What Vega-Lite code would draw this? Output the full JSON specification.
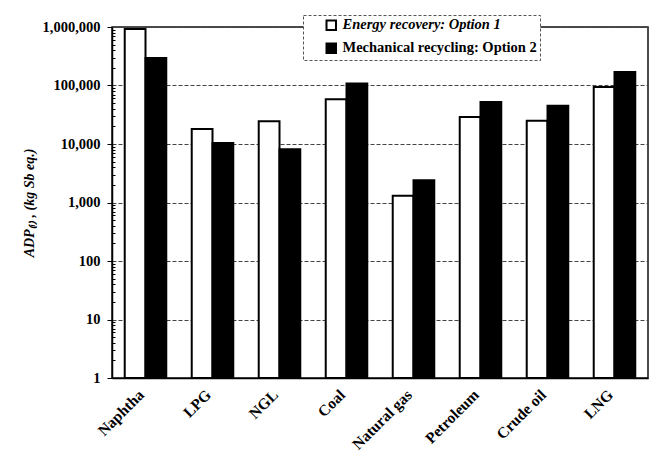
{
  "$schema": "https://vega.github.io/schema/vega-lite/v6.json",
  "width": 536,
  "height": 351,
  "autosize": {"type": "none"},
  "padding": {"left": 112, "top": 27, "right": 6, "bottom": 74},
  "background": "white",
  "config": {
    "font": "Liberation Serif",
    "view": {"stroke": "#111", "strokeWidth": 1.5},
    "axis": {"labelFont": "Liberation Serif", "titleFont": "Liberation Serif", "labelColor": "#000", "titleColor": "#000", "domainColor": "#000", "tickColor": "#000"}
  },
  "data": {
    "values": [
      {"fuel": "Naphtha", "option": "Energy recovery: Option 1", "value": 920000},
      {"fuel": "Naphtha", "option": "Mechanical recycling: Option 2", "value": 295000},
      {"fuel": "LPG", "option": "Energy recovery: Option 1", "value": 18000},
      {"fuel": "LPG", "option": "Mechanical recycling: Option 2", "value": 10400},
      {"fuel": "NGL", "option": "Energy recovery: Option 1", "value": 24500},
      {"fuel": "NGL", "option": "Mechanical recycling: Option 2", "value": 8100},
      {"fuel": "Coal", "option": "Energy recovery: Option 1", "value": 58000},
      {"fuel": "Coal", "option": "Mechanical recycling: Option 2", "value": 108000},
      {"fuel": "Natural gas", "option": "Energy recovery: Option 1", "value": 1300},
      {"fuel": "Natural gas", "option": "Mechanical recycling: Option 2", "value": 2400},
      {"fuel": "Petroleum", "option": "Energy recovery: Option 1", "value": 29000},
      {"fuel": "Petroleum", "option": "Mechanical recycling: Option 2", "value": 52000},
      {"fuel": "Crude oil", "option": "Energy recovery: Option 1", "value": 25000},
      {"fuel": "Crude oil", "option": "Mechanical recycling: Option 2", "value": 45000},
      {"fuel": "LNG", "option": "Energy recovery: Option 1", "value": 94000},
      {"fuel": "LNG", "option": "Mechanical recycling: Option 2", "value": 170000}
    ]
  },
  "mark": {"type": "bar", "stroke": "#000", "strokeWidth": 2},
  "encoding": {
    "x": {
      "field": "fuel",
      "type": "nominal",
      "sort": ["Naphtha", "LPG", "NGL", "Coal", "Natural gas", "Petroleum", "Crude oil", "LNG"],
      "scale": {"paddingInner": 0.38, "paddingOuter": 0.19},
      "axis": {
        "title": null,
        "labelAngle": -45,
        "labelFontSize": 15.5,
        "labelFontWeight": "bold",
        "labelPadding": 9,
        "labelOffset": -9,
        "ticks": false,
        "domainWidth": 1.5
      }
    },
    "xOffset": {"field": "option", "type": "nominal", "sort": ["Energy recovery: Option 1", "Mechanical recycling: Option 2"]},
    "y": {
      "field": "value",
      "type": "quantitative",
      "scale": {"type": "log", "domain": [1, 1000000], "nice": false},
      "axis": {
        "title": "ADP₍ᵢ₎ , (kg Sb eq.)",
        "titleFontSize": 14,
        "titleFontWeight": "bold",
        "titleFontStyle": "italic",
        "titlePadding": 6,
        "values": [1, 2, 3, 4, 5, 6, 7, 8, 9, 10, 20, 30, 40, 50, 60, 70, 80, 90, 100, 200, 300, 400, 500, 600, 700, 800, 900, 1000, 2000, 3000, 4000, 5000, 6000, 7000, 8000, 9000, 10000, 20000, 30000, 40000, 50000, 60000, 70000, 80000, 90000, 100000, 200000, 300000, 400000, 500000, 600000, 700000, 800000, 900000, 1000000],
        "labelExpr": "indexof([1,10,100,1000,10000,100000,1000000], datum.value) >= 0 ? format(datum.value, ',d') : ''",
        "labelFontSize": 14.5,
        "labelFontWeight": "bold",
        "labelPadding": 7,
        "ticks": true,
        "tickWidth": 1,
        "tickSize": {"condition": {"test": "indexof([1,10,100,1000,10000,100000,1000000], datum.value) >= 0", "value": 5}, "value": -3},
        "grid": true,
        "gridColor": "#444",
        "gridDash": [4, 2],
        "gridWidth": 1,
        "gridOpacity": {"condition": {"test": "indexof([1,10,100,1000,10000,100000,1000000], datum.value) >= 0", "value": 1}, "value": 0},
        "domainWidth": 1.5
      }
    },
    "y2": {"datum": 1},
    "fill": {
      "field": "option",
      "type": "nominal",
      "sort": ["Energy recovery: Option 1", "Mechanical recycling: Option 2"],
      "scale": {"domain": ["Energy recovery: Option 1", "Mechanical recycling: Option 2"], "range": ["#ffffff", "#000000"]},
      "legend": {
        "title": null,
        "orient": "none",
        "legendX": 191,
        "legendY": -12,
        "direction": "vertical",
        "fillColor": "white",
        "strokeColor": "#555",
        "padding": 3,
        "rowPadding": 5,
        "symbolOffset": 18,
        "symbolType": "square",
        "symbolSize": 90,
        "symbolStrokeColor": "#000",
        "symbolStrokeWidth": 2,
        "symbolOpacity": 1,
        "labelFontSize": 14.5,
        "labelFontWeight": "bold",
        "labelFont": "Liberation Serif",
        "labelColor": "#000",
        "labelLimit": 400,
        "labelOffset": 4,
        "labelExpr": "datum.label + '\u00a0\u00a0\u00a0\u00a0\u00a0'",
        "encode": {
          "labels": {"update": {"fontStyle": {"signal": "indexof(datum.label, 'Energy') >= 0 ? 'italic' : 'normal'"}}},
          "legend": {"update": {"strokeDash": {"value": [3, 2]}}}
        }
      }
    }
  }
}
